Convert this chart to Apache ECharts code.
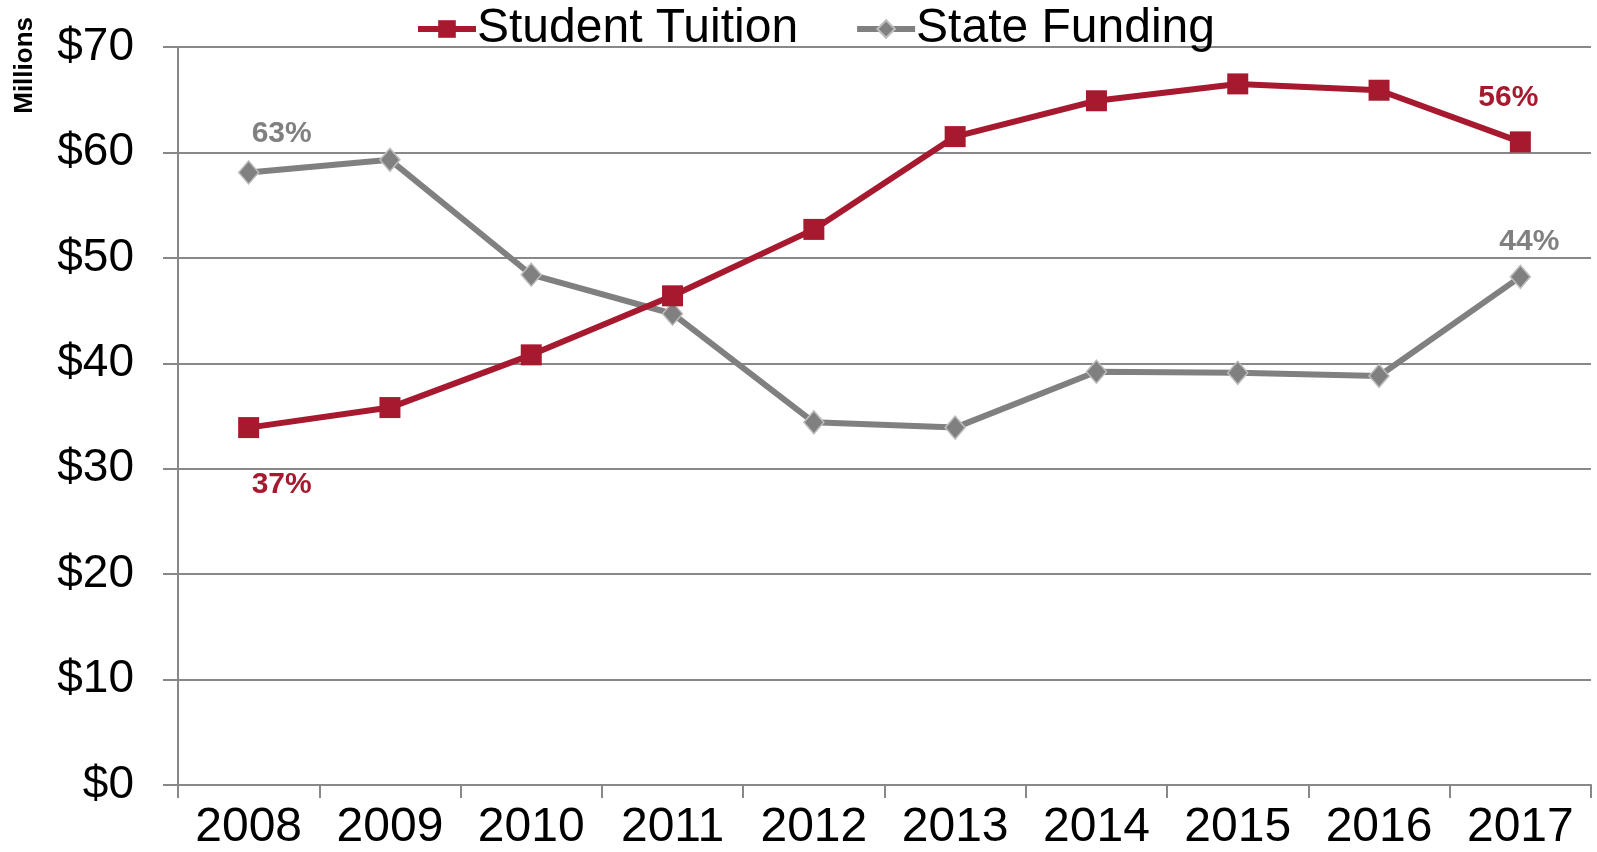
<!DOCTYPE html>
<html>
<head>
<meta charset="utf-8">
<title>Student Tuition vs State Funding</title>
<script src="https://cdn.jsdelivr.net/npm/echarts@6/dist/echarts.min.js"></script>
<style>
  html, body { margin: 0; padding: 0; background: #fff; }
  #chart { width: 1597px; height: 852px; }
</style>
</head>
<body>
<div id="chart"></div>
<script>
// Fiscal years on the category axis
const years = ['2008', '2009', '2010', '2011', '2012', '2013', '2014', '2015', '2016', '2017'];

// Revenue in millions of dollars
const studentTuition = [33.9, 35.8, 40.8, 46.4, 52.7, 61.5, 64.9, 66.5, 65.9, 61.0];
const stateFunding   = [58.1, 59.3, 48.4, 44.7, 34.4, 33.9, 39.2, 39.1, 38.8, 48.2];

// Share of combined revenue, shown at the first and last year
const tuitionShare = { 0: '37%', 9: '56%' };
const fundingShare = { 0: '63%', 9: '44%' };

// Y axis range and step (millions)
const yMin = 0, yMax = 70, yStep = 10;

const CRIMSON = '#A6192E';
const GREY = '#808080';
const FONT = '"Liberation Sans", Arial, sans-serif';

// Where each share label sits relative to its point
const tuitionLabelOffset = { 0: [33, 57], 9: [-12, -44] };
const fundingLabelOffset = { 0: [33, -39], 9: [9, -35] };

function withShareLabels(values, shares, offsets, color) {
  return values.map((v, i) => {
    if (!(i in shares)) return v;
    return {
      value: v,
      label: {
        show: true,
        position: 'inside',
        offset: offsets[i],
        formatter: shares[i],
        color: color,
        fontFamily: FONT,
        fontWeight: 'bold',
        fontSize: 30
      }
    };
  });
}

const chart = echarts.init(document.getElementById('chart'), null, { renderer: 'canvas' });

chart.setOption({
  animation: false,
  backgroundColor: '#ffffff',
  textStyle: { fontFamily: FONT },
  grid: { left: 178, right: 6, top: 47, bottom: 66, containLabel: false },
  legend: {
    left: 410,
    top: 0,
    itemWidth: 58,
    itemHeight: 22,
    itemGap: 56,
    textStyle: { fontFamily: FONT, fontSize: 48, color: '#000', padding: [0, 0, 0, -4] },
    data: [
      { name: 'Student Tuition', lineStyle: { width: 6 } },
      { name: 'State Funding', lineStyle: { width: 6 } }
    ]
  },
  graphic: [{
    type: 'text',
    left: 12,
    top: 17,
    rotation: Math.PI / 2,
    style: {
      text: 'Millions',
      fontFamily: FONT,
      fontWeight: 'bold',
      fontSize: 26,
      fill: '#000'
    }
  }],
  xAxis: {
    type: 'category',
    data: years,
    boundaryGap: true,
    axisLine: { lineStyle: { color: '#888888', width: 2 } },
    axisTick: { show: true, length: 13, inside: false, lineStyle: { color: '#888888', width: 2 } },
    axisLabel: { color: '#000', fontFamily: FONT, fontSize: 48, margin: 19 },
    splitLine: { show: false }
  },
  yAxis: {
    type: 'value',
    min: yMin,
    max: yMax,
    interval: yStep,
    axisLine: { show: true, lineStyle: { color: '#888888', width: 2 } },
    axisTick: { show: true, length: 15, lineStyle: { color: '#888888', width: 2 } },
    axisLabel: {
      color: '#000',
      fontFamily: FONT,
      fontSize: 46,
      margin: 44,
      formatter: v => '$' + v
    },
    splitLine: { show: true, lineStyle: { color: '#888888', width: 2 } }
  },
  series: [
    {
      name: 'Student Tuition',
      type: 'line',
      data: withShareLabels(studentTuition, tuitionShare, tuitionLabelOffset, CRIMSON),
      symbol: 'rect',
      symbolSize: 21,
      showAllSymbol: true,
      lineStyle: { color: CRIMSON, width: 6 },
      itemStyle: { color: CRIMSON, borderColor: CRIMSON, borderWidth: 0 },
      z: 3
    },
    {
      name: 'State Funding',
      type: 'line',
      data: withShareLabels(stateFunding, fundingShare, fundingLabelOffset, GREY),
      symbol: 'diamond',
      symbolSize: [20, 23],
      showAllSymbol: true,
      lineStyle: { color: GREY, width: 6 },
      itemStyle: { color: GREY, borderColor: '#BDBDBD', borderWidth: 1.5 },
      z: 2
    }
  ]
});
</script>
</body>
</html>
